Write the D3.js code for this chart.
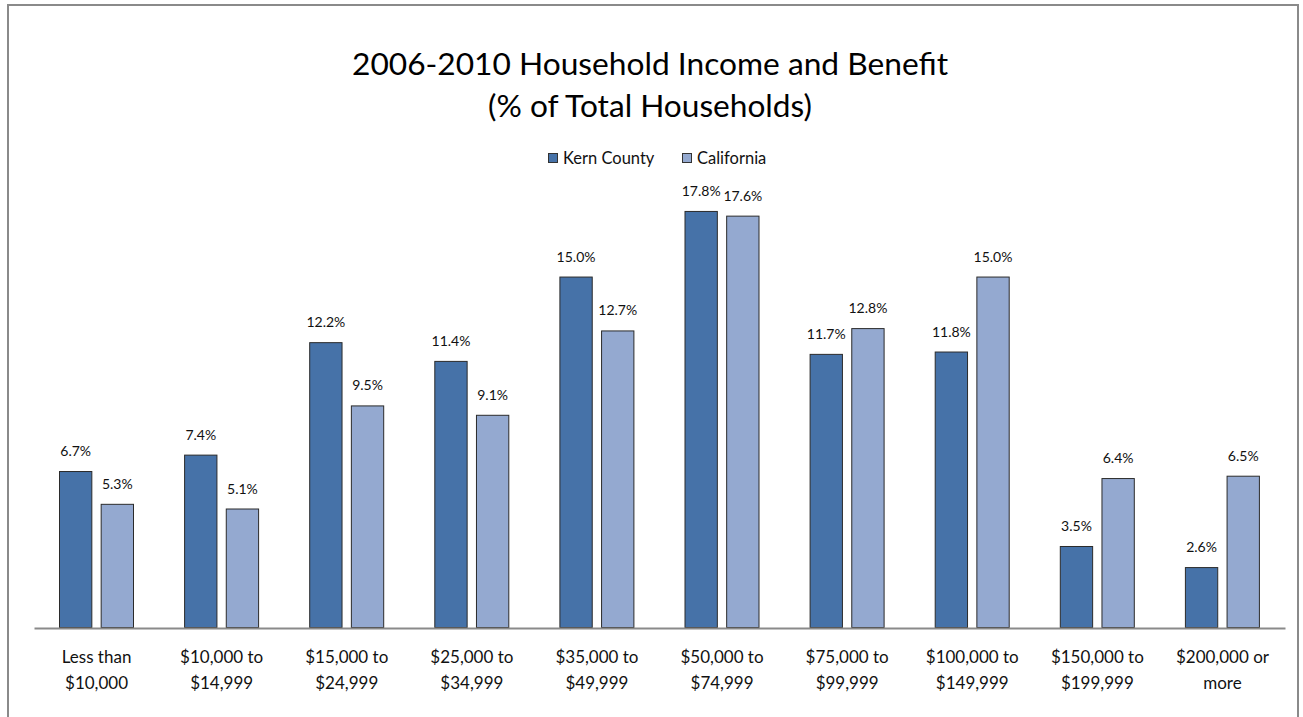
<!DOCTYPE html>
<html>
<head>
<meta charset="utf-8">
<script src="https://cdn.jsdelivr.net/npm/d3@7"></script>
<style>
  html, body { margin: 0; padding: 0; background: #fff; }
  svg { display: block; font-family: Lato, "Open Sans", sans-serif; }
</style>
</head>
<body>
<svg id="chart" width="1303" height="717"></svg>
<script>
// Income brackets (two-line labels) and the share of households in each
const categories = [
  ["Less than", "$10,000"],
  ["$10,000 to", "$14,999"],
  ["$15,000 to", "$24,999"],
  ["$25,000 to", "$34,999"],
  ["$35,000 to", "$49,999"],
  ["$50,000 to", "$74,999"],
  ["$75,000 to", "$99,999"],
  ["$100,000 to", "$149,999"],
  ["$150,000 to", "$199,999"],
  ["$200,000 or", "more"]
];
const seriesNames = ["Kern County", "California"];
const kernCounty = [6.7, 7.4, 12.2, 11.4, 15.0, 17.8, 11.7, 11.8, 3.5, 2.6];
const california = [5.3, 5.1, 9.5, 9.1, 12.7, 17.6, 12.8, 15.0, 6.4, 6.5];
const colors = ["#4672A8", "#94A9D0"];

const svg = d3.select("#chart");

// outer frame
svg.append("path")
  .attr("d", "M8,730 L8,5 L1298,5 L1298,730")
  .attr("fill", "none")
  .attr("stroke", "#8a8a8a")
  .attr("stroke-width", 2);

// title
const title = svg.append("g").attr("fill", "#000").attr("text-anchor", "middle")
  .attr("font-weight", 400);
title.append("text")
  .attr("x", 650).attr("y", 75)
  .attr("font-size", 31)
  .attr("textLength", 596).attr("lengthAdjust", "spacingAndGlyphs")
  .text("2006-2010 Household Income and Benefit");
title.append("text")
  .attr("x", 650).attr("y", 117)
  .attr("font-size", 31)
  .attr("textLength", 324).attr("lengthAdjust", "spacingAndGlyphs")
  .text("(% of Total Households)");

// legend
const legend = svg.append("g");
const legendX = [548, 682];
seriesNames.forEach((name, i) => {
  legend.append("rect")
    .attr("x", legendX[i] + 0.5).attr("y", 153.5)
    .attr("width", 9).attr("height", 9)
    .attr("fill", colors[i]).attr("stroke", "#333").attr("stroke-width", 1);
  legend.append("text")
    .attr("x", legendX[i] + 15).attr("y", 164)
    .attr("font-size", 16.5).attr("fill", "#111")
    .text(name);
});

// scales
const x0 = d3.scaleBand()
  .domain(d3.range(categories.length))
  .range([34, 1285])
  .paddingInner(0)
  .paddingOuter(0);
const x1 = d3.scaleBand()
  .domain([0, 1])
  .range([25, 100])
  .paddingInner(0.2);
const y = d3.scaleLinear().domain([0, 20]).range([628, 159.4]);

const rows = categories.map((c, i) => ({ i, values: [kernCounty[i], california[i]] }));

const groups = svg.append("g").selectAll("g")
  .data(rows).join("g")
  .attr("transform", d => `translate(${x0(d.i)},0)`);

groups.selectAll("rect")
  .data(d => d.values.map((v, s) => ({ v, s })))
  .join("rect")
  .attr("x", d => x1(d.s) + 0.5)
  .attr("y", d => y(d.v) + 0.5)
  .attr("width", x1.bandwidth() - 1)
  .attr("height", d => y(0) - y(d.v) - 1)
  .attr("fill", d => colors[d.s])
  .attr("stroke", "#2b2b2b")
  .attr("stroke-width", 1);

groups.selectAll("text.value")
  .data(d => d.values.map((v, s) => ({ v, s })))
  .join("text")
  .attr("class", "value")
  .attr("x", d => x1(d.s) + x1.bandwidth() / 2)
  .attr("y", d => y(d.v) - 15)
  .attr("text-anchor", "middle")
  .attr("font-size", 14)
  .attr("fill", "#111")
  .text(d => d.v.toFixed(1) + "%");

// category axis
const xAxis = svg.append("g")
  .attr("transform", `translate(0,${y(0)})`)
  .call(d3.axisBottom(x0).tickSize(0).tickFormat(""));
xAxis.select(".domain").attr("stroke", "#8a8a8a").attr("stroke-width", 2);

const catLabels = svg.append("g").attr("text-anchor", "middle").attr("font-size", 17).attr("fill", "#111");
categories.forEach((lines, i) => {
  const cx = x0(i) + x0.bandwidth() / 2;
  lines.forEach((line, k) => {
    catLabels.append("text")
      .attr("x", cx).attr("y", 663 + k * 26)
      .text(line);
  });
});
</script>
</body>
</html>
